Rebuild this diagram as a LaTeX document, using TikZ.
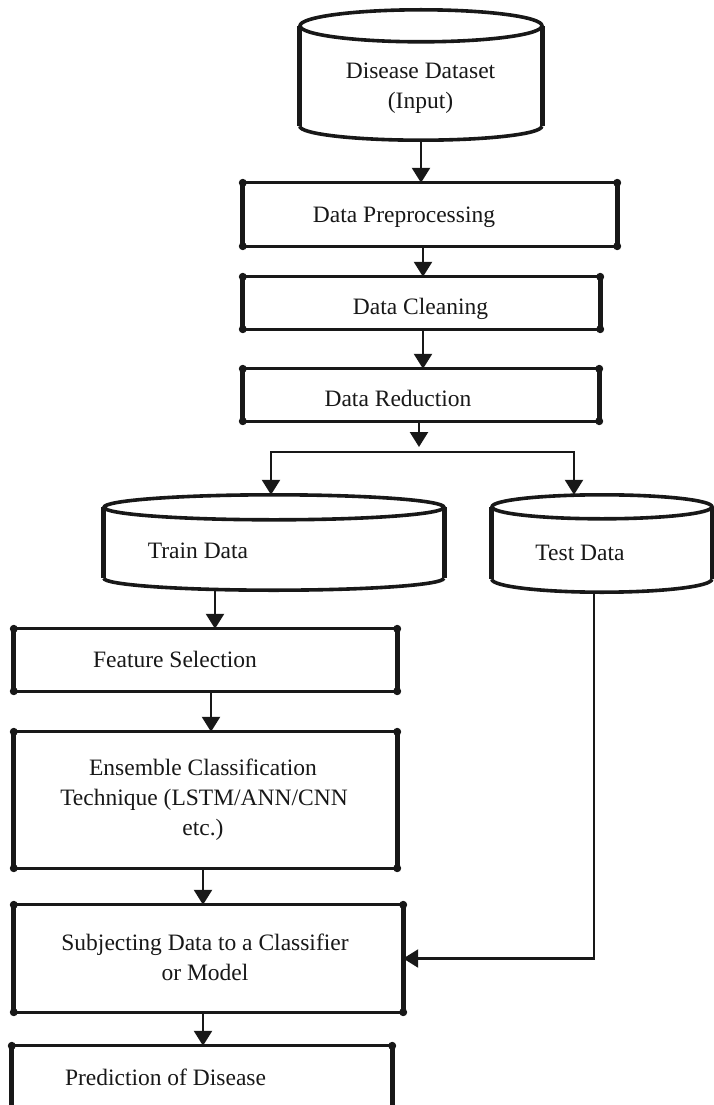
\documentclass[tikz,border=0pt]{standalone}
\usepackage{fontspec}
\setmainfont{Liberation Serif}
\usetikzlibrary{arrows.meta,calc}
\definecolor{ink}{RGB}{24,24,24}

\tikzset{
  shapeonly/.style={rectangle, draw=none, inner sep=0pt},
  boxedge/.style={draw=ink, line width=3.2pt},
  boxside/.style={draw=ink, line width=5pt},
  corner/.style={fill=ink},
  rim/.style={draw=ink, line width=3.6pt},
  drumside/.style={draw=ink, line width=5pt},
  flow/.style={draw=ink, line width=2.4pt, -{Triangle[width=18pt,length=15pt]}},
  lbl/.style={anchor=base, inner sep=0pt, text=ink, font=\fontsize{23.5}{30}\selectfont},
}

% process box: heavy sides, lighter top and bottom, dots at the corners
\newcommand\frameit[1]{%
  \draw[boxside] (#1.north west) -- (#1.south west) (#1.north east) -- (#1.south east);
  \draw[boxedge] (#1.north west) -- (#1.north east) (#1.south west) -- (#1.south east);
  \foreach \c in {north west,north east,south west,south east}
    \fill[corner] (#1.\c) circle[radius=4pt];
}
% same box, open at the bottom
\newcommand\openframe[1]{%
  \draw[boxside] (#1.north west) -- (#1.south west) (#1.north east) -- (#1.south east);
  \draw[boxedge] (#1.north west) -- (#1.north east);
  \foreach \c in {north west,north east}
    \fill[corner] (#1.\c) circle[radius=4pt];
}
% data store drum: name, half width, top rim radius, bottom rim radius
\newcommand\drawdrum[4]{%
  \draw[rim] ([yshift=-#3]#1.north) ellipse[x radius=#2, y radius=#3];
  \draw[drumside] ([yshift=-#3]#1.north west) -- ([yshift=#4]#1.south west)
                  ([yshift=-#3]#1.north east) -- ([yshift=#4]#1.south east);
  \draw[rim] ([yshift=#4]#1.south west) arc[start angle=180, end angle=360, x radius=#2, y radius=#4];
}

\begin{document}
\begin{tikzpicture}[x=1pt, y=-1pt]
  \useasboundingbox (0,0) rectangle (714,1105);
  \fill[white] (0,0) rectangle (714,1105);

  % shapes
  \node[shapeonly, minimum width=242pt, minimum height=130pt] (dset)  at (421,75) {};
  \node[shapeonly, minimum width=374pt, minimum height=63pt]  (pre)   at (430,214.5) {};
  \node[shapeonly, minimum width=357pt, minimum height=52pt]  (clean) at (421.5,303) {};
  \node[shapeonly, minimum width=356pt, minimum height=52pt]  (red)   at (421,395) {};
  \node[shapeonly, minimum width=340pt, minimum height=95pt]  (train) at (274,542.5) {};
  \node[shapeonly, minimum width=220pt, minimum height=97pt]  (test)  at (602,543.5) {};
  \node[shapeonly, minimum width=383pt, minimum height=62pt]  (feat)  at (205.5,660) {};
  \node[shapeonly, minimum width=383pt, minimum height=136pt] (ens)   at (205.5,800) {};
  \node[shapeonly, minimum width=389pt, minimum height=107pt] (subj)  at (208.5,958.5) {};
  \node[shapeonly, minimum width=380pt, minimum height=59pt]  (pred)  at (202,1075.5) {};

  \drawdrum{dset}{121pt}{16pt}{14pt}
  \drawdrum{train}{170pt}{12.5pt}{12pt}
  \drawdrum{test}{110pt}{12pt}{13pt}
  \frameit{pre}
  \frameit{clean}
  \frameit{red}
  \frameit{feat}
  \frameit{ens}
  \frameit{subj}
  \openframe{pred}

  % labels
  \node[lbl] (dsetA)  at (420.5,79)  {Disease Dataset};
  \node[lbl] (dsetB)  at (420.5,109) {(Input)};
  \node[lbl] (preT)   at (404,222)   {Data Preprocessing};
  \node[lbl] (cleanT) at (420.5,314) {Data Cleaning};
  \node[lbl] (redT)   at (398,406)   {Data Reduction};
  \node[lbl] (trainT) at (198,558)   {Train Data};
  \node[lbl] (testT)  at (580,560)   {Test Data};
  \node[lbl] (featT)  at (175,667)   {Feature Selection};
  \node[lbl] (ensA)   at (203,775)   {Ensemble Classification};
  \node[lbl] (ensB)   at (204,805)   {Technique (LSTM/ANN/CNN};
  \node[lbl] (ensC)   at (203,835)   {etc.)};
  \node[lbl] (subjA)  at (205,950)   {Subjecting Data to a Classifier};
  \node[lbl] (subjB)  at (205,980)   {or Model};
  \node[lbl] (predT)  at (165.5,1085) {Prediction of Disease};

  % connector columns
  \coordinate (c1) at (421,0);
  \coordinate (c2) at (423,0);
  \coordinate (c3) at (419,0);
  \coordinate (fork) at (419,452);
  \coordinate (lcol) at (271,0);
  \coordinate (rcol) at (574,0);
  \coordinate (c5) at (215,0);
  \coordinate (c6) at (211,0);
  \coordinate (c7) at (203,0);
  \coordinate (tcol) at (594,0);

  % connectors
  \draw[flow] (dset.south -| c1) -- (pre.north -| c1);
  \draw[flow] (pre.south -| c2) -- (clean.north -| c2);
  \draw[flow] (clean.south -| c2) -- (red.north -| c2);
  \draw[flow, shorten >=5pt] (red.south -| c3) -- (fork);
  \draw[flow] (fork) -| (train.north -| lcol);
  \draw[flow] (fork) -| (test.north -| rcol);
  \draw[flow] ([yshift=1pt]train.south -| c5) -- (feat.north -| c5);
  \draw[flow] (feat.south -| c6) -- (ens.north -| c6);
  \draw[flow] (ens.south -| c7) -- (subj.north -| c7);
  \draw[flow] (subj.south -| c7) -- (pred.north -| c7);
  \draw[flow] (test.south -| tcol) |- (subj.east);
\end{tikzpicture}
\end{document}
